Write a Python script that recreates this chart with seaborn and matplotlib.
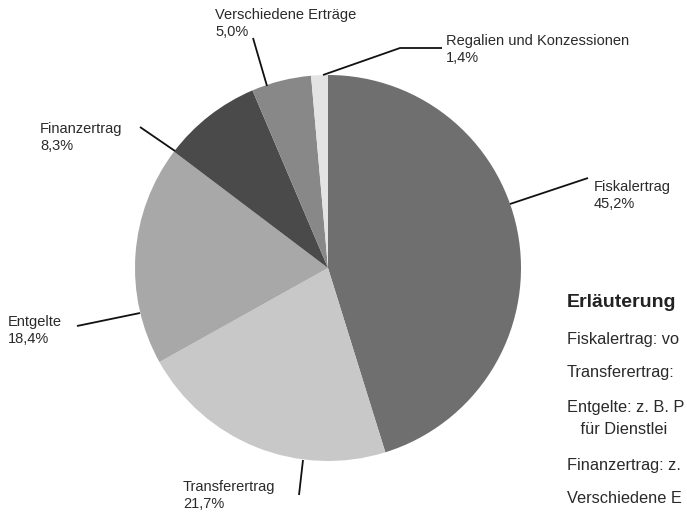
import matplotlib
matplotlib.use("Agg")
import matplotlib.pyplot as plt
import seaborn as sns

sns.set_style("white")
plt.rcParams['font.family'] = ['Liberation Sans', 'DejaVu Sans']

# data
categories = ['Fiskalertrag', 'Transferertrag', 'Entgelte', 'Finanzertrag',
              'Verschiedene Erträge', 'Regalien und Konzessionen']
shares = [45.2, 21.7, 18.4, 8.3, 5.0, 1.4]
notes = ['Fiskalertrag: vo', 'Transferertrag:', 'Entgelte: z. B. P',
         '   für Dienstlei', 'Finanzertrag: z.', 'Verschiedene E']

greys = ['#6f6f6f', '#c8c8c8', '#a8a8a8', '#4a4a4a', '#888888', '#e3e3e3']

# label text position (top-left, px) and leader line (pie point -> text point)
lab_pos = [(594, 180), (183, 480), (8, 315), (40, 122), (215, 8), (446, 34)]
leaders = [
    [(510, 204), (588, 178)],
    [(303, 460), (299, 495)],
    [(140, 313), (77, 326)],
    [(175, 151), (140, 127)],
    [(267, 86), (253, 38)],
    [(323, 75), (400, 48), (442, 48)],
]

fig = plt.figure(figsize=(6.87, 5.16), dpi=100)
ax = fig.add_axes([0, 0, 1, 1])

# y axis is inverted below, so 270 deg is "up" and counterclock=True runs clockwise on screen
ax.pie(shares, colors=greys, startangle=270, counterclock=True,
       center=(328, 268), radius=193, frame=True,
       wedgeprops=dict(linewidth=0))
ax.set_xlim(0, 687)
ax.set_ylim(516, 0)   # pixel coords, y down
ax.axis('off')

for cat, val, (tx, ty), pts in zip(categories, shares, lab_pos, leaders):
    txt = f"{cat}\n{val:.1f}".replace('.', ',') + "%"
    ax.text(tx, ty, txt, fontsize=10.5, color='#2a2a2a', va='top', ha='left',
            linespacing=1.25)
    xs, ys = zip(*pts)
    ax.plot(xs, ys, color='#111111', lw=1.3, solid_capstyle='butt')

# explanation box on the right
ax.text(567, 294, 'Erläuterung', fontsize=14, fontweight='bold',
        color='#222222', va='top', ha='left')
note_y = [332, 365, 400, 422, 458, 491]
for t, y in zip(notes, note_y):
    ax.text(567, y, t, fontsize=11.8, color='#2a2a2a', va='top', ha='left')

fig.savefig('out.png', dpi=100)
